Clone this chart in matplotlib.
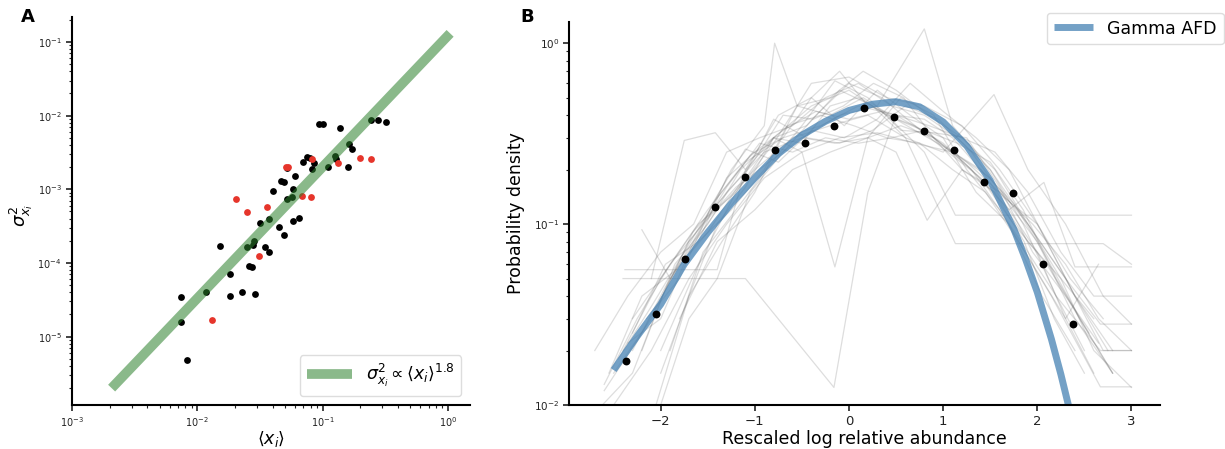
import matplotlib
matplotlib.use("Agg")
import matplotlib.pyplot as plt
import numpy as np

# ---------------- Panel A data ----------------
black_mean = [0.00741, 0.00745, 0.00828, 0.01172, 0.01518, 0.01811, 0.01823, 0.0226, 0.0289,
              0.0249, 0.0280, 0.0283, 0.0260, 0.0275, 0.0318, 0.0347, 0.0375, 0.0375, 0.0399,
              0.0445, 0.0494, 0.0462, 0.0491, 0.0519, 0.0522, 0.0573, 0.0583, 0.0601, 0.0576,
              0.0652, 0.0692, 0.0745, 0.0822, 0.0853, 0.0797, 0.0940, 0.1012, 0.110, 0.125,
              0.128, 0.137, 0.159, 0.162, 0.172, 0.242, 0.275, 0.318]
black_var = [3.49e-5, 1.58e-5, 4.79e-6, 4.08e-5, 1.68e-4, 7.08e-5, 3.56e-5, 4.0e-5, 3.8e-5,
             1.64e-4, 1.75e-4, 1.96e-4, 9.18e-5, 8.72e-5, 3.48e-4, 1.64e-4, 1.42e-4, 3.94e-4, 9.46e-4,
             3.1e-4, 2.37e-4, 1.29e-3, 1.26e-3, 1.92e-3, 7.36e-4, 7.76e-4, 1.02e-3, 1.51e-3, 3.74e-4,
             4.07e-4, 2.36e-3, 2.76e-3, 1.86e-3, 2.31e-3, 2.7e-3, 7.66e-3, 7.81e-3, 2.02e-3, 2.82e-3,
             2.54e-3, 6.9e-3, 2.02e-3, 4.1e-3, 3.55e-3, 8.67e-3, 8.67e-3, 8.24e-3]
red_mean = [0.0130, 0.0204, 0.0248, 0.0313, 0.0360, 0.0509, 0.0528, 0.0679, 0.0807, 0.0828,
            0.132, 0.197, 0.242]
red_var = [1.69e-5, 7.45e-4, 4.91e-4, 1.24e-4, 5.8e-4, 2.02e-3, 1.98e-3, 8.09e-4, 7.93e-4, 2.6e-3,
           2.31e-3, 2.7e-3, 2.6e-3]
fit_mean = [0.00207, 1.04]
fit_var = [2.0e-6, 0.131]

# ---------------- Panel B data ----------------
dots_x = [-2.364, -2.045, -1.737, -1.419, -1.101, -0.783, -0.465, -0.157, 0.162, 0.480,
          0.798, 1.116, 1.434, 1.742, 2.060, 2.374]
dots_y = [0.0175, 0.032, 0.0645, 0.125, 0.181, 0.256, 0.28, 0.35, 0.44, 0.393,
          0.327, 0.256, 0.171, 0.149, 0.060, 0.028]
gamma_x = [-2.5, -2.25, -2.0, -1.75, -1.5, -1.25, -1.0, -0.75, -0.5, -0.25, 0.0, 0.25, 0.5,
           0.75, 1.0, 1.25, 1.5, 1.75, 1.875, 2.0, 2.15, 2.25, 2.33]
gamma_y = [0.0156, 0.024, 0.036, 0.060, 0.09, 0.13, 0.18, 0.245, 0.31, 0.37, 0.425, 0.46, 0.475,
           0.445, 0.367, 0.271, 0.174, 0.094, 0.064, 0.042, 0.0231, 0.0148, 0.0100]

g1_x = [-2.3, -1.95, -1.6, -1.25, -0.9, -0.79, -0.55, -0.2, 0.15, 0.5, 0.85, 1.2, 1.55, 1.9, 2.25, 2.6]
g1_y = [0.02, 0.045, 0.09, 0.2, 0.35, 1.0, 0.45, 0.4, 0.5, 0.38, 0.32, 0.2, 0.15, 0.08, 0.05, 0.03]
g2_x = [-2.5, -2.1, -1.7, -1.3, -0.9, -0.5, -0.1, 0.3, 0.8, 1.1, 1.5, 1.9, 2.3, 2.7, 3.0]
g2_y = [0.015, 0.03, 0.08, 0.15, 0.25, 0.3, 0.4, 0.45, 1.2, 0.35, 0.2, 0.1, 0.05, 0.02, 0.02]
g3_x = [-2.0, -1.7, -1.4, -1.1, -0.16, 0.2, 0.5, 0.85, 1.2, 1.55, 1.9, 2.25, 2.6, 3.0]
g3_y = [0.01, 0.03, 0.05, 0.05, 0.0125, 0.15, 0.4, 0.35, 0.3, 0.2, 0.1, 0.05, 0.02, 0.0125]
g4_x = [-2.38, -1.4, -1.1, -0.8, -0.5, -0.2, 0.1, 0.4, 0.7, 1.0, 1.3, 1.6, 1.9, 2.2, 2.5]
g4_y = [0.056, 0.056, 0.2, 0.3, 0.28, 0.45, 0.5, 0.4, 0.35, 0.28, 0.2, 0.12, 0.07, 0.04, 0.02]
g5_x = [-2.4, -1.4, -1.05, -0.7, -0.35, 0.0, 0.35, 0.7, 1.05, 1.4, 1.75, 2.1, 2.45, 2.8]
g5_y = [0.05, 0.05, 0.15, 0.25, 0.4, 0.6, 0.5, 0.35, 0.25, 0.18, 0.1, 0.06, 0.03, 0.015]
g6_x = [-2.2, -1.85, -1.5, -1.15, -0.8, -0.45, -0.1, 0.25, 0.6, 1.13, 2.7, 3.0]
g6_y = [0.02, 0.06, 0.1, 0.2, 0.3, 0.35, 0.55, 0.45, 0.3, 0.078, 0.078, 0.06]
g7_x = [-2.0, -1.6, -1.2, -0.8, -0.4, 0.0, 0.4, 0.8, 1.13, 3.0]
g7_y = [0.02, 0.06, 0.15, 0.3, 0.45, 0.55, 0.4, 0.25, 0.112, 0.112]
g8_x = [-2.6, -2.2, -1.8, -1.4, -1.0, -0.6, -0.2, 0.2, 0.6, 1.0, 1.54, 1.9, 2.3, 2.7, 3.0]
g8_y = [0.012, 0.025, 0.06, 0.12, 0.2, 0.3, 0.35, 0.4, 0.3, 0.25, 0.52, 0.2, 0.1, 0.04, 0.028]
g9_x = [-2.3, -1.9, -1.5, -1.1, -0.7, -0.3, 0.1, 0.5, 0.9, 1.3, 1.7, 2.07, 2.4, 3.0]
g9_y = [0.03, 0.06, 0.12, 0.22, 0.3, 0.35, 0.45, 0.4, 0.3, 0.2, 0.12, 0.17, 0.058, 0.058]
g10_x = [-2.7, -2.35, -2.0, -1.65, -1.3, -0.95, -0.6, -0.25, 0.1, 0.45, 0.8, 1.15, 1.5, 1.85, 2.2, 2.67, 3.0]
g10_y = [0.02, 0.04, 0.07, 0.1, 0.25, 0.3, 0.35, 0.5, 0.6, 0.45, 0.4, 0.3, 0.2, 0.1, 0.04, 0.02, 0.02]
g11_x = [-2.5, -2.1, -1.7, -1.3, -0.9, -0.5, -0.1, 0.3, 0.7, 1.1, 1.5, 1.9, 2.3, 2.67, 3.0]
g11_y = [0.01, 0.02, 0.05, 0.1, 0.18, 0.25, 0.3, 0.32, 0.28, 0.25, 0.18, 0.1, 0.05, 0.028, 0.028]
g12_x = [-2.05, -1.7, -1.35, -1.0, -0.65, -0.3, 0.05, 0.4, 0.75, 1.1, 1.45, 1.8, 2.15, 2.67, 3.0]
g12_y = [0.01, 0.04, 0.08, 0.15, 0.35, 0.4, 0.35, 0.3, 0.28, 0.2, 0.15, 0.08, 0.04, 0.0126, 0.0126]
g13_x = [-2.62, -2.3, -1.98, -1.66, -1.34, -1.02, -0.7, -0.38, -0.06, 0.26, 0.58, 0.9, 1.22, 1.54, 1.86, 2.18, 2.5]
g13_y = [0.01, 0.015, 0.04, 0.09, 0.14, 0.22, 0.4, 0.38, 0.45, 0.6, 0.5, 0.3, 0.22, 0.15, 0.08, 0.03, 0.015]
g14_x = [-2.1, -1.75, -1.42, -1.1, -0.75, -0.4, -0.05, 0.3, 0.65, 1.0, 1.35, 1.7, 2.05, 2.4]
g14_y = [0.05, 0.29, 0.32, 0.2, 0.4, 0.5, 0.35, 0.55, 0.4, 0.3, 0.15, 0.1, 0.04, 0.02]
g15_x = [-1.8, -1.4, -1.0, -0.6, -0.2, 0.2, 0.5, 0.83, 1.2, 1.6, 2.0, 2.4, 2.8]
g15_y = [0.03, 0.08, 0.12, 0.2, 0.25, 0.3, 0.25, 0.105, 0.2, 0.15, 0.08, 0.03, 0.015]
g16_x = [-2.2, -1.9, -1.6, -1.3, -1.0, -0.7, -0.4, -0.1, 0.2, 0.5, 0.8, 1.1, 1.4, 1.7, 2.0, 2.3, 2.6]
g16_y = [0.093, 0.05, 0.08, 0.18, 0.25, 0.3, 0.5, 0.7, 0.45, 0.4, 0.38, 0.3, 0.2, 0.12, 0.07, 0.03, 0.015]
g17_x = [-2.4, -2.0, -1.6, -1.2, -0.8, -0.4, 0.0, 0.4, 0.8, 1.2, 1.6, 2.0, 2.4, 2.8]
g17_y = [0.02, 0.05, 0.1, 0.15, 0.28, 0.6, 0.65, 0.5, 0.45, 0.35, 0.2, 0.1, 0.04, 0.02]
g18_x = [-2.6, -2.25, -1.9, -1.55, -1.2, -0.85, -0.5, -0.15, 0.2, 0.55, 0.9, 1.25, 1.6, 1.95, 2.3, 2.65, 3.0]
g18_y = [0.013, 0.03, 0.06, 0.1, 0.16, 0.22, 0.3, 0.28, 0.3, 0.35, 0.3, 0.22, 0.15, 0.1, 0.06, 0.03, 0.02]
g19_x = [-2.0, -1.7, -1.4, -1.1, -0.8, -0.5, -0.15, 0.2, 0.55, 0.9, 1.25, 1.6, 1.95, 2.3, 2.65]
g19_y = [0.015, 0.04, 0.1, 0.16, 0.3, 0.25, 0.058, 0.3, 0.5, 0.4, 0.2, 0.12, 0.06, 0.03, 0.06]
g20_x = [-2.3, -1.95, -1.6, -1.25, -0.9, -0.55, -0.2, 0.15, 0.5, 0.85, 1.2, 1.55, 1.9, 2.25, 2.6, 3.0]
g20_y = [0.025, 0.06, 0.08, 0.12, 0.2, 0.45, 0.5, 0.7, 0.55, 0.4, 0.3, 0.25, 0.15, 0.07, 0.04, 0.04]
g21_x = [-2.45, -2.1, -1.75, -1.4, -1.05, -0.7, -0.35, 0.0, 0.35, 0.7, 1.05, 1.4, 1.75, 2.1, 2.45, 2.8]
g21_y = [0.018, 0.035, 0.07, 0.14, 0.24, 0.33, 0.42, 0.38, 0.42, 0.33, 0.26, 0.2, 0.13, 0.065, 0.03, 0.015]
g22_x = [-2.15, -1.8, -1.45, -1.1, -0.75, -0.4, -0.05, 0.3, 0.65, 1.0, 1.35, 1.7, 2.05, 2.4, 2.75]
g22_y = [0.03, 0.05, 0.13, 0.26, 0.22, 0.33, 0.3, 0.38, 0.6, 0.42, 0.3, 0.2, 0.09, 0.04, 0.02]
g23_x = [-2.55, -2.2, -1.85, -1.5, -1.15, -0.8, -0.45, -0.1, 0.25, 0.6, 0.95, 1.3, 1.65, 2.0, 2.35, 2.7]
g23_y = [0.015, 0.04, 0.055, 0.09, 0.17, 0.38, 0.3, 0.28, 0.33, 0.45, 0.38, 0.25, 0.14, 0.1, 0.05, 0.03]
g24_x = [-1.9, -1.55, -1.2, -0.85, -0.5, -0.15, 0.2, 0.55, 0.9, 1.25, 1.6, 1.95, 2.3, 2.65]
g24_y = [0.02, 0.07, 0.12, 0.21, 0.35, 0.62, 0.5, 0.33, 0.32, 0.3, 0.16, 0.07, 0.04, 0.022]
g25_x = [-2.35, -2.0, -1.65, -1.3, -0.95, -0.6, -0.25, 0.1, 0.45, 0.8, 1.15, 1.5, 1.85, 2.2, 2.55]
g25_y = [0.022, 0.03, 0.08, 0.16, 0.28, 0.25, 0.3, 0.28, 0.3, 0.33, 0.28, 0.22, 0.12, 0.05, 0.025]

gray_lines = [(g1_x, g1_y), (g2_x, g2_y), (g3_x, g3_y), (g4_x, g4_y), (g5_x, g5_y),
              (g6_x, g6_y), (g7_x, g7_y), (g8_x, g8_y), (g9_x, g9_y), (g10_x, g10_y),
              (g11_x, g11_y), (g12_x, g12_y), (g13_x, g13_y), (g14_x, g14_y), (g15_x, g15_y),
              (g16_x, g16_y), (g17_x, g17_y), (g18_x, g18_y), (g19_x, g19_y), (g20_x, g20_y),
              (g21_x, g21_y), (g22_x, g22_y), (g23_x, g23_y), (g24_x, g24_y), (g25_x, g25_y)]

# ---------------- Figure ----------------
fig = plt.figure(figsize=(12.25, 4.49), dpi=100)
axA = fig.add_axes([0.0588, 0.098, 0.3249, 0.864])
axB = fig.add_axes([0.4648, 0.098, 0.4819, 0.853])

for ax in (axA, axB):
    for s in ("top", "right"):
        ax.spines[s].set_visible(False)
    for s in ("left", "bottom"):
        ax.spines[s].set_linewidth(1.5)
    ax.tick_params(which="major", direction="out", length=4, width=1.2, colors="#222222")
    ax.tick_params(which="minor", direction="out", length=2, width=0.8, colors="#222222")

# Panel A
axA.scatter(black_mean, black_var, s=24, color="black", zorder=2, linewidths=0)
axA.scatter(red_mean, red_var, s=24, color="#e6352b", zorder=2, linewidths=0)
axA.plot(fit_mean, fit_var, color=(0.17, 0.5, 0.17), alpha=0.55, lw=7, zorder=3,
         solid_capstyle="butt", label=r"$\sigma^2_{x_i} \propto \langle x_i \rangle^{1.8}$")
axA.set_xscale("log")
axA.set_yscale("log")
axA.set_xlim(1e-3, 1.5)
axA.set_ylim(1.18e-6, 0.218)
axA.tick_params(labelsize=7)
axA.set_xlabel(r"$\langle x_i \rangle$", fontsize=12.5, labelpad=0)
axA.set_ylabel(r"$\sigma^2_{x_i}$", fontsize=13)
axA.yaxis.set_label_coords(-0.093, 0.49)
axA.legend(loc="lower right", fontsize=12.5, handlelength=2.6, framealpha=1,
           edgecolor="#dddddd")

# Panel B
for gx, gy in gray_lines:
    axB.plot(gx, gy, color="0.35", alpha=0.2, lw=0.9, zorder=1)
axB.plot(gamma_x, gamma_y, color="steelblue", alpha=0.75, lw=5, zorder=2,
         solid_capstyle="butt", label="Gamma AFD")
axB.scatter(dots_x, dots_y, s=32, color="black", zorder=3, linewidths=0)
axB.set_yscale("log")
axB.set_xlim(-2.97, 3.3)
axB.set_ylim(0.01, 1.31)
axB.set_xticks([-2, -1, 0, 1, 2, 3])
axB.tick_params(axis="x", labelsize=9.5)
axB.tick_params(axis="y", labelsize=7.5)
axB.set_xlabel("Rescaled log relative abundance", fontsize=12.5, labelpad=1)
axB.set_ylabel("Probability density", fontsize=12.5, labelpad=6)
axB.legend(loc="upper right", bbox_to_anchor=(0.999, 0.972), bbox_transform=fig.transFigure,
           borderaxespad=0, fontsize=12.5, handlelength=2.3, framealpha=1, edgecolor="#dddddd")

fig.text(0.0226, 0.962, "A", fontsize=13, fontweight="bold", ha="center", va="center")
fig.text(0.4306, 0.962, "B", fontsize=13, fontweight="bold", ha="center", va="center")

fig.savefig("out.png", dpi=100)
